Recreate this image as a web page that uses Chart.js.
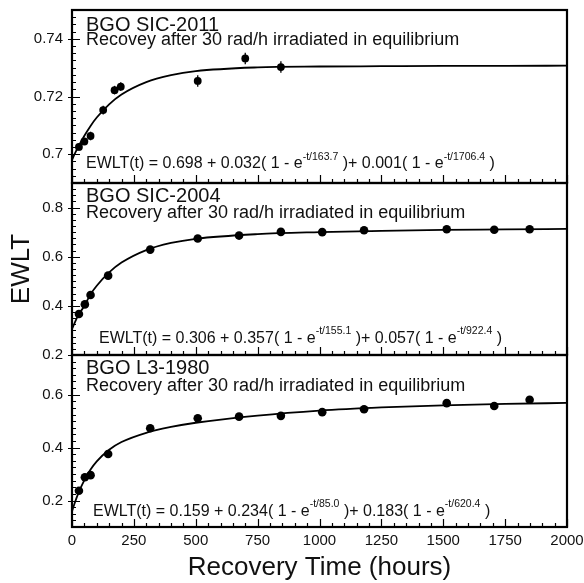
<!DOCTYPE html>
<html>
<head>
<meta charset="utf-8">
<script src="https://cdn.jsdelivr.net/npm/chart.js@4.4.1/dist/chart.umd.min.js"></script>
<style>
  html, body { margin: 0; padding: 0; background: #fff; }
  #wrap { position: relative; width: 584px; height: 583px; }
  #wrap canvas { position: absolute; left: 0; top: 0; }
</style>
</head>
<body>
<div id="wrap">
  <canvas id="c1" width="584" height="583"></canvas>
  <canvas id="c2" width="584" height="583"></canvas>
  <canvas id="c3" width="584" height="583"></canvas>
</div>
<script>
const FONT = "'Liberation Sans', Arial, sans-serif";
const INK = "#111";

// x axis (hours)
const xTicks = [0, 250, 500, 750, 1000, 1250, 1500, 1750, 2000];
const fitT = [0, 10, 25, 50, 75, 100, 150, 200, 300, 400, 500, 750, 1000, 1250, 1500, 1750, 2000];

// BGO SIC-2011
const t2011 = [28, 50, 75, 126, 172, 197, 508, 700, 844];
const ewlt2011 = [0.7025, 0.7044, 0.7063, 0.7153, 0.7222, 0.7234, 0.7254, 0.7332, 0.7302];
const err2011 = [0.0012, 0.0012, 0.0015, 0.0015, 0.0015, 0.0015, 0.002, 0.002, 0.002];
const fit2011 = [0.698, 0.6999, 0.7025, 0.7064, 0.7098, 0.7127, 0.7173, 0.7207, 0.725, 0.7274, 0.7288, 0.7301, 0.7304, 0.7305, 0.7306, 0.7306, 0.7307];
const yTicks2011 = [0.7, 0.72, 0.74];

// BGO SIC-2004
const t2004 = [28, 52, 75, 146, 316, 508, 675, 844, 1011, 1180, 1514, 1706, 1849];
const ewlt2004 = [0.367, 0.406, 0.444, 0.523, 0.629, 0.674, 0.686, 0.701, 0.7, 0.708, 0.712, 0.71, 0.712];
const fit2004 = [0.306, 0.329, 0.361, 0.4, 0.447, 0.482, 0.536, 0.576, 0.627, 0.656, 0.673, 0.692, 0.7, 0.705, 0.709, 0.711, 0.7135];
const yTicks2004 = [0.2, 0.4, 0.6, 0.8];

// BGO L3-1980
const t1980 = [28, 52, 75, 146, 316, 508, 675, 844, 1011, 1180, 1514, 1706, 1849];
const ewlt1980 = [0.237, 0.288, 0.296, 0.376, 0.473, 0.511, 0.517, 0.52, 0.534, 0.545, 0.568, 0.557, 0.581];
const fit1980 = [0.159, 0.188, 0.226, 0.277, 0.317, 0.348, 0.392, 0.421, 0.456, 0.478, 0.494, 0.521, 0.54, 0.552, 0.56, 0.565, 0.569];
const yTicks1980 = [0.2, 0.4, 0.6];

const panels = [
  {
    id: "c1", top: 10, bottom: 183, ymin: 0.69, ymax: 0.75, yMinor: 0.0025,
    yTicks: yTicks2011, t: t2011, v: ewlt2011, err: err2011, fit: fit2011, r: 3.9,
    name: "BGO SIC-2011", sub: "Recovey after 30 rad/h irradiated in equilibrium",
    titleDy: 21, subDy: 34.5, eqDx: 14, eqDy: 15,
    eq: ["EWLT(t) = 0.698 + 0.032( 1 - e", "-t/163.7", " )+ 0.001( 1 - e", "-t/1706.4", " )"],
  },
  {
    id: "c2", top: 183, bottom: 355, ymin: 0.2, ymax: 0.9, yMinor: 0.025,
    yTicks: yTicks2004, t: t2004, v: ewlt2004, fit: fit2004, r: 4.3, yTitle: "EWLT",
    name: "BGO SIC-2004", sub: "Recovery after 30 rad/h irradiated in equilibrium",
    titleDy: 19, subDy: 34.5, eqDx: 27, eqDy: 12.5,
    eq: ["EWLT(t) = 0.306 + 0.357( 1 - e", "-t/155.1", " )+ 0.057( 1 - e", "-t/922.4", " )"],
  },
  {
    id: "c3", top: 355, bottom: 527, ymin: 0.1, ymax: 0.75, yMinor: 0.025,
    yTicks: yTicks1980, t: t1980, v: ewlt1980, fit: fit1980, r: 4.3, showX: true,
    name: "BGO L3-1980", sub: "Recovery after 30 rad/h irradiated in equilibrium",
    titleDy: 19, subDy: 36, eqDx: 21, eqDy: 11.5,
    eq: ["EWLT(t) = 0.159 + 0.234( 1 - e", "-t/85.0", " )+ 0.183( 1 - e", "-t/620.4", " )"],
  },
];

// frame, inward ticks, error bars and panel texts
function decor(p) {
  return {
    id: "decor",
    beforeDatasetsDraw(chart) {
      if (!p.err) return;
      const { ctx, scales: { x, y } } = chart;
      ctx.save();
      ctx.strokeStyle = "#000";
      ctx.lineWidth = 1.3;
      p.t.forEach((t, i) => {
        const px = x.getPixelForValue(t);
        ctx.beginPath();
        ctx.moveTo(px, y.getPixelForValue(p.v[i] - p.err[i]));
        ctx.lineTo(px, y.getPixelForValue(p.v[i] + p.err[i]));
        ctx.stroke();
      });
      ctx.restore();
    },
    afterDraw(chart) {
      const { ctx, chartArea: a, scales: { x, y } } = chart;
      ctx.save();
      ctx.strokeStyle = "#000";
      ctx.lineWidth = 1.2;
      ctx.beginPath();
      // left axis ticks
      const n = Math.round((p.ymax - p.ymin) / p.yMinor);
      for (let i = 0; i <= n; i++) {
        const v = p.ymin + i * p.yMinor;
        const py = Math.round(y.getPixelForValue(v)) + 0.5;
        const major = p.yTicks.some((tv) => Math.abs(tv - v) < p.yMinor / 10);
        ctx.moveTo(a.left - (major ? 4 : 0), py);
        ctx.lineTo(a.left + (major ? 8 : 4), py);
      }
      // bottom axis ticks
      for (let h = 0; h <= 2000; h += 50) {
        const px = Math.round(x.getPixelForValue(h)) + 0.5;
        const major = h % 250 === 0;
        ctx.moveTo(px, a.bottom);
        ctx.lineTo(px, a.bottom - (major ? 8 : 4));
      }
      ctx.stroke();
      // frame
      ctx.lineWidth = 2.2;
      ctx.strokeRect(a.left, a.top, a.right - a.left, a.bottom - a.top);

      // texts
      ctx.fillStyle = INK;
      ctx.textAlign = "left";
      ctx.textBaseline = "alphabetic";
      ctx.font = "20px " + FONT;
      ctx.fillText(p.name, a.left + 14, a.top + p.titleDy);
      ctx.font = "18px " + FONT;
      ctx.fillText(p.sub, a.left + 14, a.top + p.subDy);

      let ex = a.left + p.eqDx;
      const ey = a.bottom - p.eqDy;
      p.eq.forEach((s, i) => {
        const sup = i % 2 === 1;
        ctx.font = (sup ? "10.5px " : "16px ") + FONT;
        ctx.fillText(s, ex, sup ? ey - 8.5 : ey);
        ex += ctx.measureText(s).width;
      });
      ctx.restore();
    },
  };
}

function makePanel(p) {
  const tickFont = { family: FONT, size: 15 };
  return new Chart(document.getElementById(p.id), {
    type: "scatter",
    data: {
      datasets: [
        {
          data: fitT.map((t, i) => ({ x: t, y: p.fit[i] })),
          showLine: true,
          borderColor: "#000",
          borderWidth: 1.8,
          pointRadius: 0,
          cubicInterpolationMode: "monotone",
        },
        {
          data: p.t.map((t, i) => ({ x: t, y: p.v[i] })),
          pointRadius: p.r,
          backgroundColor: "#000",
          borderWidth: 0,
        },
      ],
    },
    options: {
      responsive: false,
      animation: false,
      events: [],
      layout: { autoPadding: false, padding: { left: 0, right: 17, top: p.top, bottom: 0 } },
      plugins: { legend: { display: false }, tooltip: { enabled: false } },
      scales: {
        x: {
          type: "linear",
          min: 0,
          max: 2000,
          afterBuildTicks: (s) => { s.ticks = xTicks.map((v) => ({ value: v })); },
          afterFit: (s) => {
            s.height = 583 - p.bottom;
            s.paddingLeft = 0;
            s.paddingRight = 0;
          },
          grid: { display: false, drawTicks: false },
          border: { display: false },
          ticks: {
            display: !!p.showX, padding: 5, font: tickFont, color: INK,
            maxRotation: 0, autoSkip: false, callback: (v) => String(v),
          },
          title: {
            display: !!p.showX,
            text: "Recovery Time (hours)",
            color: INK,
            font: { family: FONT, size: 26 },
            padding: { top: 0, bottom: 0 },
          },
        },
        y: {
          min: p.ymin,
          max: p.ymax,
          afterBuildTicks: (s) => { s.ticks = p.yTicks.map((v) => ({ value: v })); },
          afterFit: (s) => {
            s.width = 72;
            s.paddingTop = 0;
            s.paddingBottom = 0;
          },
          grid: { display: false, drawTicks: false },
          border: { display: false },
          ticks: { padding: 9, font: tickFont, color: INK, callback: (v) => String(v) },
          title: {
            display: !!p.yTitle,
            text: p.yTitle || "",
            color: INK,
            font: { family: FONT, size: 26 },
            padding: { top: 6, bottom: 0 },
          },
        },
      },
    },
    plugins: [decor(p)],
  });
}

panels.forEach(makePanel);
</script>
</body>
</html>
